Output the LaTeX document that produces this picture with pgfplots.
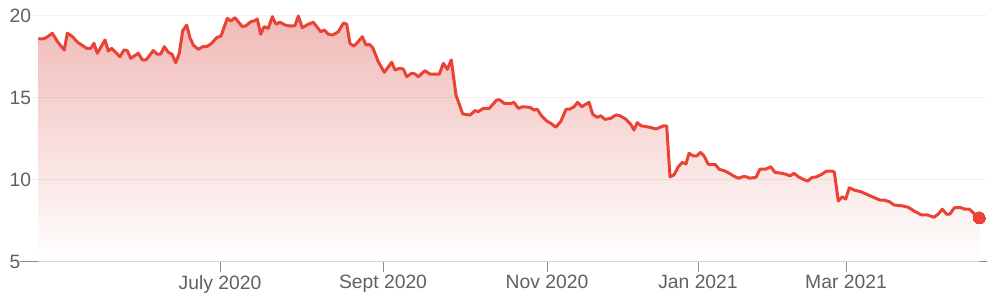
\documentclass[border=0pt]{standalone}
\usepackage{fontspec}
\setmainfont{Liberation Sans}
\usepackage{pgfplots}
\pgfplotsset{compat=1.18}
\definecolor{linered}{HTML}{EA4335}
\definecolor{axisgray}{HTML}{8C8C8C}
\definecolor{labelgray}{HTML}{606060}
\definecolor{filltop}{RGB}{240,186,183}
\definecolor{fillmid}{RGB}{254,243,243}
\begin{document}
\begin{tikzpicture}
\useasboundingbox (0,0) rectangle (996pt,299pt);
\begin{axis}[
  at={(20pt,37.3pt)}, anchor=south west,
  x=1pt, y=16.4pt,
  xmin=20, xmax=987, ymin=5, ymax=20.95,
  axis x line*=bottom, axis y line*=left,
  x axis line style={-, draw=axisgray, line width=1.2pt},
  y axis line style={draw=none},
  xtick={220,383,547,698,846},
  xticklabels={July 2020, Sept 2020, Nov 2020, Jan 2021, Mar 2021},
  ytick={5,10,15,20},
  tick align=outside,
  major tick length=10pt,
  xtick style={draw=axisgray, line width=1pt},
  ytick style={draw=none},
  /pgf/number format/assume math mode=true,
  ticklabel style={font=\fontsize{19.3}{23}\selectfont, text=labelgray},
  yticklabel style={anchor=west, xshift=-4pt},
  clip mode=individual,
]
\addplot[draw=none, shade, top color=filltop, middle color=fillmid, bottom color=white]
table {
38.3 18.60
42.7 18.58
46.7 18.68
52.3 18.93
58.3 18.35
64.3 17.91
67.3 18.93
71.7 18.76
78.3 18.35
86.7 18.01
90.7 18.01
94 18.32
97.3 17.71
105 18.52
108.3 17.85
111.7 18.01
120 17.50
124 17.91
127.3 17.87
130.7 17.40
138.3 17.71
142.3 17.30
146 17.30
153.3 17.87
157.3 17.65
160.7 17.65
164.3 18.11
168.3 17.77
172 17.66
175.7 17.13
179.3 17.71
182.7 19.09
186.7 19.43
190 18.65
193.3 18.21
198.3 17.95
202.7 18.11
206.7 18.11
211.7 18.32
216.7 18.66
221 18.76
227.3 19.84
230.7 19.68
235 19.88
242.3 19.33
246 19.39
250.7 19.63
254 19.68
257.3 19.80
260.7 18.87
264 19.33
268.3 19.23
272.3 19.94
276 19.48
280 19.60
285 19.43
290 19.37
295 19.39
298.3 19.98
302.3 19.27
308.3 19.48
313.3 19.60
320.7 19.02
324.3 19.13
328.3 18.87
332.7 18.82
338.3 19.02
343.3 19.54
346.7 19.49
350 18.30
354 18.15
357.3 18.35
362.3 18.72
366 18.21
369.3 18.26
372.7 18.05
378.3 17.20
384.3 16.55
391.7 17.16
395 16.69
399.3 16.79
403.3 16.75
406.7 16.28
411.7 16.49
415 16.45
418.3 16.28
425 16.65
430 16.43
439.3 16.43
443.3 17.10
447.3 16.73
451.3 17.30
456 15.16
462.7 14.01
470 13.94
475 14.21
478.3 14.15
483.3 14.35
489.3 14.35
496.7 14.86
500 14.86
504 14.66
510 14.64
514 14.72
518.3 14.35
522.7 14.45
530 14.41
534 14.25
537.3 14.29
541.7 13.88
546.7 13.58
551.7 13.40
555.7 13.20
560.7 13.54
566 14.29
570 14.31
574 14.45
577.7 14.72
581.7 14.45
589 14.72
592.7 13.99
597.3 13.80
600.7 13.90
605 13.68
610.7 13.74
616 13.95
620 13.90
626 13.68
630.7 13.38
634 13.03
637.3 13.48
641 13.29
646.7 13.23
651.7 13.17
656 13.09
660 13.20
664 13.29
666.7 13.27
670 10.18
674 10.29
678.3 10.79
682.3 11.06
686 10.96
689 11.61
693.3 11.45
696.7 11.45
700.7 11.67
704 11.45
708.3 10.94
715 10.94
719.3 10.63
724 10.55
729.3 10.39
733.3 10.24
738.3 10.09
742.7 10.18
746 10.18
750 10.09
756 10.15
760 10.65
766 10.65
770.7 10.79
775 10.45
781.7 10.39
786 10.33
790 10.23
794 10.39
798.3 10.18
803.3 10.02
807.7 9.92
811.7 10.12
816.7 10.18
821.7 10.33
826.7 10.53
831.7 10.53
834.3 10.47
838.3 8.70
842.3 8.96
845.7 8.82
849.3 9.51
854 9.37
860.7 9.27
866.7 9.11
873.3 8.93
880 8.76
884 8.76
889.3 8.66
894 8.46
901.7 8.41
908.3 8.32
914 8.09
921.7 7.85
927.3 7.85
934 7.71
938.3 7.91
942.3 8.20
946.7 7.89
950 7.91
954.3 8.29
961 8.29
965 8.20
969.3 8.20
975 7.89
979.3 7.68
} -- (axis cs:979.3,5) -- (axis cs:38.3,5) -- cycle;
\draw[black, opacity=0.05, line width=1.6pt] (axis cs:32,10) -- (axis cs:987,10);
\draw[black, opacity=0.05, line width=1.6pt] (axis cs:32,15) -- (axis cs:987,15);
\draw[black, opacity=0.05, line width=1.6pt] (axis cs:32,20) -- (axis cs:987,20);
\addplot[linered, line width=3pt, line join=round, mark=none]
table {
38.3 18.60
42.7 18.58
46.7 18.68
52.3 18.93
58.3 18.35
64.3 17.91
67.3 18.93
71.7 18.76
78.3 18.35
86.7 18.01
90.7 18.01
94 18.32
97.3 17.71
105 18.52
108.3 17.85
111.7 18.01
120 17.50
124 17.91
127.3 17.87
130.7 17.40
138.3 17.71
142.3 17.30
146 17.30
153.3 17.87
157.3 17.65
160.7 17.65
164.3 18.11
168.3 17.77
172 17.66
175.7 17.13
179.3 17.71
182.7 19.09
186.7 19.43
190 18.65
193.3 18.21
198.3 17.95
202.7 18.11
206.7 18.11
211.7 18.32
216.7 18.66
221 18.76
227.3 19.84
230.7 19.68
235 19.88
242.3 19.33
246 19.39
250.7 19.63
254 19.68
257.3 19.80
260.7 18.87
264 19.33
268.3 19.23
272.3 19.94
276 19.48
280 19.60
285 19.43
290 19.37
295 19.39
298.3 19.98
302.3 19.27
308.3 19.48
313.3 19.60
320.7 19.02
324.3 19.13
328.3 18.87
332.7 18.82
338.3 19.02
343.3 19.54
346.7 19.49
350 18.30
354 18.15
357.3 18.35
362.3 18.72
366 18.21
369.3 18.26
372.7 18.05
378.3 17.20
384.3 16.55
391.7 17.16
395 16.69
399.3 16.79
403.3 16.75
406.7 16.28
411.7 16.49
415 16.45
418.3 16.28
425 16.65
430 16.43
439.3 16.43
443.3 17.10
447.3 16.73
451.3 17.30
456 15.16
462.7 14.01
470 13.94
475 14.21
478.3 14.15
483.3 14.35
489.3 14.35
496.7 14.86
500 14.86
504 14.66
510 14.64
514 14.72
518.3 14.35
522.7 14.45
530 14.41
534 14.25
537.3 14.29
541.7 13.88
546.7 13.58
551.7 13.40
555.7 13.20
560.7 13.54
566 14.29
570 14.31
574 14.45
577.7 14.72
581.7 14.45
589 14.72
592.7 13.99
597.3 13.80
600.7 13.90
605 13.68
610.7 13.74
616 13.95
620 13.90
626 13.68
630.7 13.38
634 13.03
637.3 13.48
641 13.29
646.7 13.23
651.7 13.17
656 13.09
660 13.20
664 13.29
666.7 13.27
670 10.18
674 10.29
678.3 10.79
682.3 11.06
686 10.96
689 11.61
693.3 11.45
696.7 11.45
700.7 11.67
704 11.45
708.3 10.94
715 10.94
719.3 10.63
724 10.55
729.3 10.39
733.3 10.24
738.3 10.09
742.7 10.18
746 10.18
750 10.09
756 10.15
760 10.65
766 10.65
770.7 10.79
775 10.45
781.7 10.39
786 10.33
790 10.23
794 10.39
798.3 10.18
803.3 10.02
807.7 9.92
811.7 10.12
816.7 10.18
821.7 10.33
826.7 10.53
831.7 10.53
834.3 10.47
838.3 8.70
842.3 8.96
845.7 8.82
849.3 9.51
854 9.37
860.7 9.27
866.7 9.11
873.3 8.93
880 8.76
884 8.76
889.3 8.66
894 8.46
901.7 8.41
908.3 8.32
914 8.09
921.7 7.85
927.3 7.85
934 7.71
938.3 7.91
942.3 8.20
946.7 7.89
950 7.91
954.3 8.29
961 8.29
965 8.20
969.3 8.20
975 7.89
979.3 7.68
};
\addplot[linered, only marks, mark=*, mark size=6pt, mark options={fill=linered, draw=linered, line width=0pt}]
coordinates {(979.3,7.68)};
\end{axis}
\end{tikzpicture}
\end{document}
